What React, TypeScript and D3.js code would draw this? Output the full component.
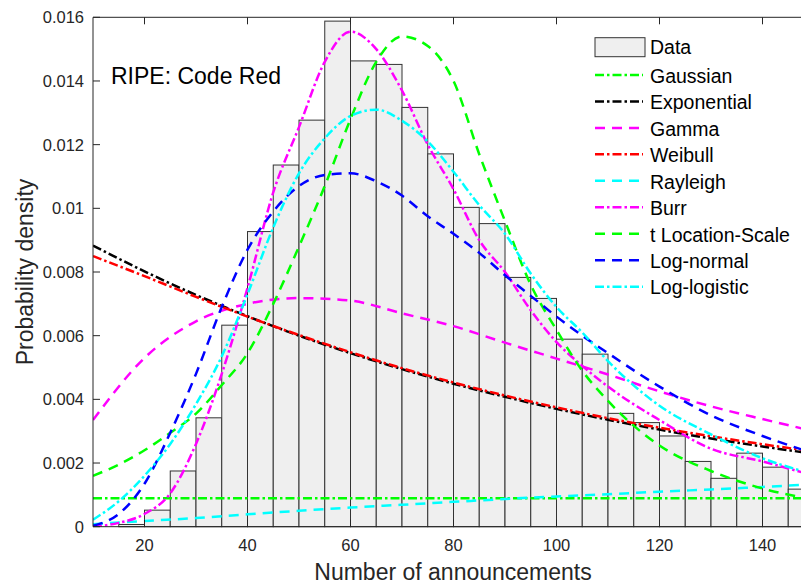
import React from "react";
import * as d3 from "d3";

// ---------- data ----------
const binEdges = [15, 20, 25, 30, 35, 40, 45, 50, 55, 60, 65, 70, 75, 80, 85, 90, 95, 100, 105, 110, 115, 120, 125, 130, 135, 140, 145, 150];
const binDensity = [0.00007, 0.00052, 0.00175, 0.00342, 0.00633, 0.00927, 0.01136, 0.01277, 0.01588, 0.01463, 0.01452, 0.01317, 0.01171, 0.01003, 0.00952, 0.00783, 0.00717, 0.00589, 0.00542, 0.00356, 0.00327, 0.00285, 0.00205, 0.00152, 0.00231, 0.00187, 0.00118];

const xCoarse = [10, 20, 30, 40, 50, 60, 70, 80, 90, 100, 110, 120, 130, 140, 150];
const xFine = [10, 15, 20, 25, 30, 35, 40, 45, 50, 55, 60, 65, 70, 75, 80, 85, 90, 95, 100, 105, 110, 120, 130, 140, 150];

const gaussianY = [0.00089, 0.00089, 0.00089, 0.00089, 0.00089, 0.00089, 0.00089, 0.00089, 0.00089, 0.00089, 0.00089, 0.00089, 0.00089, 0.00089, 0.00089];
const exponentialY = [0.00883, 0.00802, 0.00728, 0.00661, 0.006, 0.00545, 0.00495, 0.00449, 0.00408, 0.0037, 0.00336, 0.00305, 0.00277, 0.00252, 0.00229];
const gammaY = [0.00335, 0.0053, 0.00645, 0.007, 0.00718, 0.0071, 0.0067, 0.0063, 0.00578, 0.00528, 0.00478, 0.00425, 0.00378, 0.00338, 0.003];
const weibullY = [0.0085, 0.00787, 0.00722, 0.0066, 0.00602, 0.00548, 0.00498, 0.00453, 0.00412, 0.00375, 0.00341, 0.00311, 0.00284, 0.00259, 0.00236];
const rayleighY = [0.00008, 0.00018, 0.00027, 0.00039, 0.0005, 0.0006, 0.00069, 0.00078, 0.00087, 0.00095, 0.00102, 0.0011, 0.00117, 0.00125, 0.00133];

const burrY = [0.0, 0.00012, 0.0004, 0.00105, 0.0026, 0.0048, 0.0075, 0.0105, 0.01255, 0.0146, 0.01555, 0.015, 0.0137, 0.012, 0.0106, 0.009, 0.008, 0.0068, 0.0058, 0.00505, 0.0044, 0.00335, 0.00245, 0.00205, 0.0016];
const tLocScaleY = [0.0016, 0.00195, 0.0024, 0.00295, 0.00355, 0.00445, 0.00545, 0.007, 0.0088, 0.0107, 0.0128, 0.0146, 0.0154, 0.0151, 0.014, 0.0117, 0.0096, 0.0076, 0.00618, 0.0049, 0.00395, 0.00255, 0.00175, 0.0012, 0.00085];
const logNormalY = [0.00003, 0.0004, 0.00135, 0.00295, 0.0048, 0.0069, 0.0087, 0.0099, 0.0107, 0.01105, 0.0111, 0.01085, 0.0104, 0.00975, 0.0092, 0.0086, 0.0079, 0.00725, 0.0066, 0.006, 0.00545, 0.0044, 0.0035, 0.00285, 0.0023];
const logLogisticY = [0.00022, 0.0008, 0.0016, 0.0026, 0.00385, 0.00535, 0.0073, 0.0094, 0.0111, 0.0122, 0.0129, 0.0131, 0.01275, 0.0121, 0.01115, 0.0101, 0.0092, 0.00795, 0.0069, 0.0061, 0.0052, 0.0038, 0.0029, 0.00215, 0.00165];

const xTicks = [20, 40, 60, 80, 100, 120, 140];
const yTicks = [0, 0.002, 0.004, 0.006, 0.008, 0.01, 0.012, 0.014, 0.016];
const yTickLabels = ["0", "0.002", "0.004", "0.006", "0.008", "0.01", "0.012", "0.014", "0.016"];

const DASH = "10,7";
const DASHDOT = "9,3,2.5,3";

const series = [
  { name: "Gaussian", xs: xCoarse, ys: gaussianY, color: "#00ff00", dash: DASHDOT },
  { name: "Exponential", xs: xCoarse, ys: exponentialY, color: "#000000", dash: DASHDOT },
  { name: "Gamma", xs: xCoarse, ys: gammaY, color: "#ff00ff", dash: DASH },
  { name: "Weibull", xs: xCoarse, ys: weibullY, color: "#ff0000", dash: DASHDOT },
  { name: "Rayleigh", xs: xCoarse, ys: rayleighY, color: "#00ffff", dash: DASH },
  { name: "Burr", xs: xFine, ys: burrY, color: "#ff00ff", dash: DASHDOT },
  { name: "t Location-Scale", xs: xFine, ys: tLocScaleY, color: "#00ff00", dash: DASH },
  { name: "Log-normal", xs: xFine, ys: logNormalY, color: "#0000ff", dash: DASH },
  { name: "Log-logistic", xs: xFine, ys: logLogisticY, color: "#00ffff", dash: DASHDOT },
];

const FONT = "'Liberation Sans', Arial, Helvetica, sans-serif";
const AX = "#262626";

export default function App() {
  const W = 801, H = 584;
  const left = 93, right = 814, top = 17.3, bottom = 526.7;
  const x = d3.scaleLinear().domain([10, 150]).range([left, right]);
  const y = d3.scaleLinear().domain([0, 0.016]).range([bottom, top]);

  const line = d3
    .line<[number, number]>()
    .x((d) => x(d[0]))
    .y((d) => y(d[1]))
    .curve(d3.curveMonotoneX);

  const legendX = 595;
  const legendRow0 = 48.5;
  const legendStep = 26.46;

  return (
    <svg
      width={W}
      height={H}
      style={{ position: "absolute", left: 0, top: 0, background: "#fff" }}
      fontFamily={FONT}
    >
      <defs>
        <clipPath id="plotClip">
          <rect x={left} y={top} width={right - left} height={bottom - top} />
        </clipPath>
      </defs>
      <rect x={0} y={0} width={W} height={H} fill="#fff" />

      {/* histogram */}
      <g>
        {binDensity.map((v, i) => (
          <rect
            key={i}
            x={x(binEdges[i])}
            y={y(v)}
            width={x(binEdges[i + 1]) - x(binEdges[i])}
            height={y(0) - y(v)}
            fill="#efefef"
            stroke="#333"
            strokeWidth={1}
          />
        ))}
      </g>

      {/* fitted curves */}
      <g clipPath="url(#plotClip)">
        {series.map((s) => (
          <path
            key={s.name}
            d={line(s.xs.map((xv, i) => [xv, s.ys[i]] as [number, number])) || ""}
            fill="none"
            stroke={s.color}
            strokeWidth={2.5}
            strokeDasharray={s.dash}
          />
        ))}
      </g>

      {/* axes box */}
      <g stroke={AX} strokeWidth={1} fill="none">
        <line x1={left} y1={top} x2={right} y2={top} />
        <line x1={left} y1={bottom} x2={right} y2={bottom} />
        <line x1={left} y1={top} x2={left} y2={bottom} />
        <line x1={right} y1={top} x2={right} y2={bottom} />
        {xTicks.map((t) => (
          <g key={"xt" + t}>
            <line x1={x(t)} x2={x(t)} y1={bottom} y2={bottom - 7} />
            <line x1={x(t)} x2={x(t)} y1={top} y2={top + 7} />
          </g>
        ))}
        {yTicks.map((t) => (
          <line key={"yt" + t} x1={left} x2={left + 7} y1={y(t)} y2={y(t)} />
        ))}
      </g>

      {/* tick labels */}
      <g fill={AX} fontSize={16.5}>
        {xTicks.map((t) => (
          <text key={"xl" + t} x={x(t)} y={551} textAnchor="middle">
            {t}
          </text>
        ))}
        {yTicks.map((t, i) => (
          <text key={"yl" + t} x={84} y={y(t)} textAnchor="end" dominantBaseline="central">
            {yTickLabels[i]}
          </text>
        ))}
      </g>

      {/* axis labels */}
      <text x={453} y={580} textAnchor="middle" fontSize={23} fill={AX}>
        Number of announcements
      </text>
      <text
        transform={`translate(33, 272) rotate(-90)`}
        textAnchor="middle"
        fontSize={23}
        fill={AX}
      >
        Probability density
      </text>

      {/* annotation */}
      <text x={111} y={84.3} fontSize={23} fill="#000">
        RIPE: Code Red
      </text>

      {/* legend */}
      <g fontSize={19.5} fill="#000">
        <rect x={legendX} y={37.7} width={50} height={19} fill="#efefef" stroke="#333" strokeWidth={1} />
        <text x={650} y={47.5} dy="0.35em">
          Data
        </text>
        {series.map((s, i) => {
          const ry = legendRow0 + legendStep * (i + 1);
          return (
            <g key={"lg" + s.name}>
              <line
                x1={legendX}
                x2={legendX + 48}
                y1={ry}
                y2={ry}
                stroke={s.color}
                strokeWidth={2.5}
                strokeDasharray={s.dash}
              />
              <text x={650} y={ry + 1} dy="0.35em">
                {s.name}
              </text>
            </g>
          );
        })}
      </g>
    </svg>
  );
}
